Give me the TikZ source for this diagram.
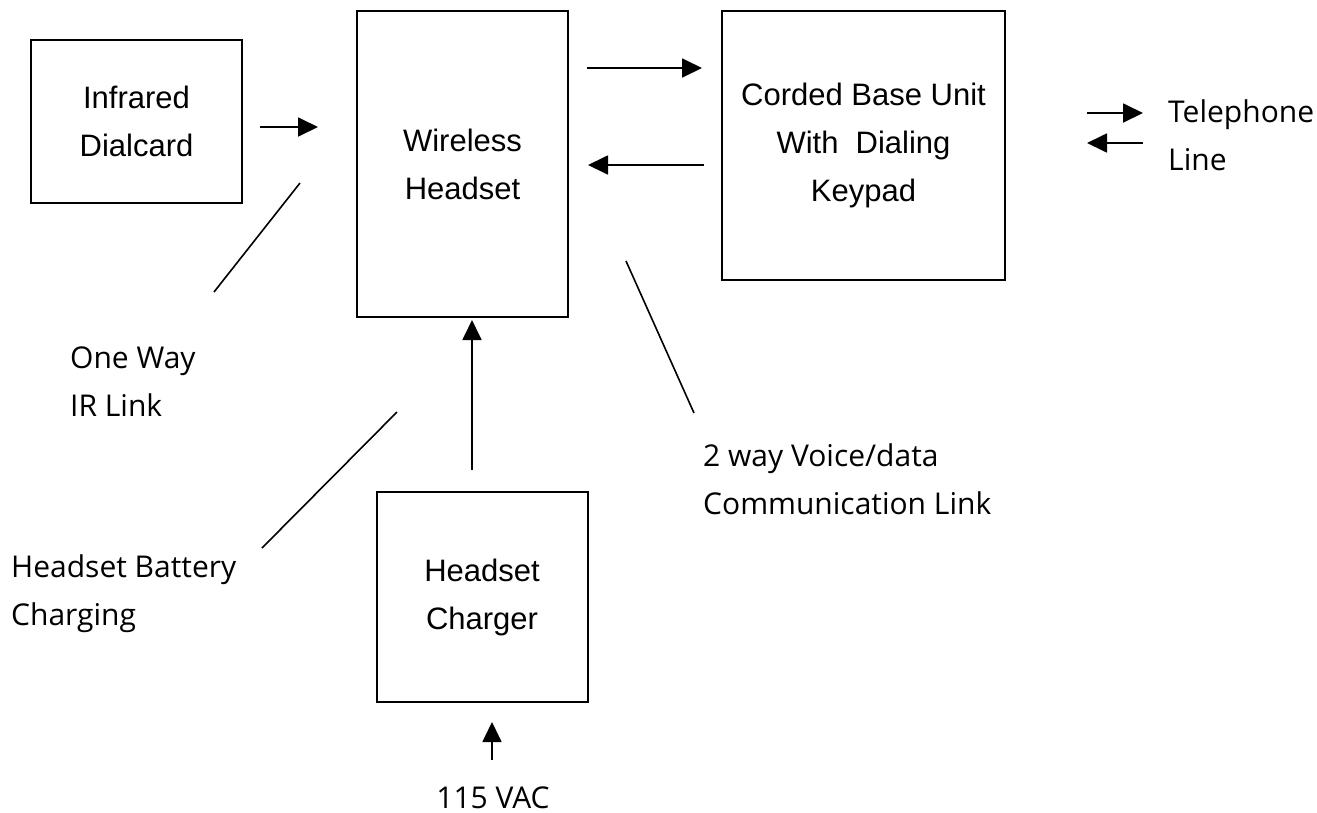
\documentclass[tikz,border=0pt]{standalone}
\usepackage{fontspec}
\setmainfont{Liberation Sans}
\newfontfamily\notefont{Open Sans}
\usetikzlibrary{arrows.meta}

\begin{document}
\begin{tikzpicture}[x=1pt,y=-1pt,
  blk/.style={draw, line width=2pt, inner sep=0pt, align=center,
    font=\fontsize{31}{48}\selectfont},
  arr/.style={line width=1.8pt, -{Triangle[length=20pt,width=19pt]}},
  lead/.style={line width=1.6pt},
  note/.style={anchor=west, align=left, inner sep=0pt,
    font=\notefont\fontsize{30}{48}\selectfont}]
\useasboundingbox (0,0) rectangle (1317,812);

% blocks
\node[blk, minimum width=211pt, minimum height=163pt] (ird) at (136.5,121.5) {Infrared\\Dialcard};
\node[blk, minimum width=211pt, minimum height=306pt] (whs) at (462.5,164) {Wireless\\Headset};
\node[blk, minimum width=283pt, minimum height=269pt] (cbu) at (863.5,145.5) {Corded Base Unit\\With~~Dialing\\Keypad};
\node[blk, minimum width=211pt, minimum height=210pt] (chg) at (482,597) {Headset\\Charger};

% free labels
\node[note] (ow)  at (70,382)  {One Way\\IR Link};
\node[note] (hb)  at (11,594)  {Headset Battery\\Charging};
\node[note] (vd)  at (703,479) {2 way Voice/data\\Communication Link};
\node[note] (tel) at (1168,135) {Telephone\\Line};
\node[inner sep=0pt, anchor=base, font=\notefont\fontsize{30}{36}\selectfont] (vac) at (493,808) {115 VAC};

% arrow end points
\coordinate (irA) at (260,127);   \coordinate (irB) at (318,127);
\coordinate (upA) at (587,68);    \coordinate (upB) at (702,68);
\coordinate (dnA) at (704,165);   \coordinate (dnB) at (588,165);
\coordinate (tlA) at (1087,113);  \coordinate (tlB) at (1143,113);
\coordinate (tmA) at (1143,143);  \coordinate (tmB) at (1087,143);
\coordinate (chA) at (472,470);   \coordinate (chB) at (472,320);
\coordinate (acA) at (492,760);   \coordinate (acB) at (492,722);

\draw[arr] (irA) -- (irB);
\draw[arr] (upA) -- (upB);
\draw[arr] (dnA) -- (dnB);
\draw[arr] (tlA) -- (tlB);
\draw[arr] (tmA) -- (tmB);
\draw[arr] (chA) -- (chB);
\draw[arr] (acA) -- (acB);

% leader lines
\coordinate (l1a) at (300,183); \coordinate (l1b) at (214,292);
\coordinate (l2a) at (397,412); \coordinate (l2b) at (262,548);
\coordinate (l3a) at (626,261); \coordinate (l3b) at (694,413);
\draw[lead] (l1a) -- (l1b);
\draw[lead] (l2a) -- (l2b);
\draw[lead] (l3a) -- (l3b);
\end{tikzpicture}
\end{document}
